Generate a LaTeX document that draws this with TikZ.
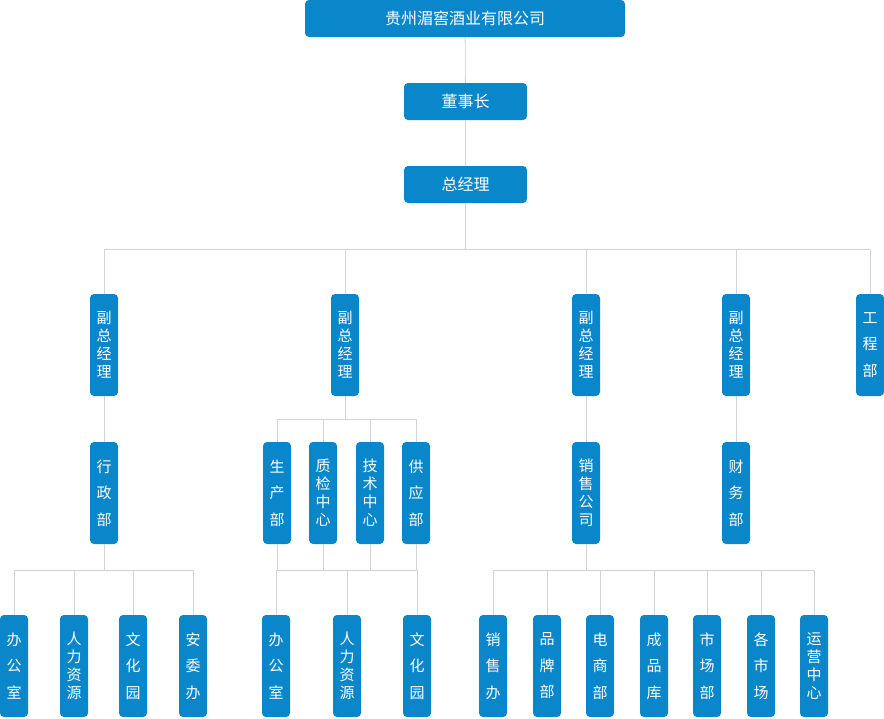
\documentclass[tikz,border=0pt]{standalone}
\usepackage{fontspec}
\setmainfont{Noto Sans CJK SC}
\definecolor{boxblue}{HTML}{0A86CA}
\definecolor{linegray}{HTML}{D4D4D4}
\begin{document}
\begin{tikzpicture}[x=1pt, y=-1pt,
  hbox/.style={fill=boxblue, rounded corners=4pt, text=white, inner sep=0pt, minimum height=37pt, font=\fontsize{16}{18}\selectfont},
  vbox/.style={fill=boxblue, rounded corners=4pt, text=white, inner sep=0pt, minimum width=28pt, minimum height=102pt, text width=16pt, align=center},
  four/.style={vbox, font=\fontsize{15}{18}\selectfont},
  three/.style={vbox, font=\fontsize{15}{26.5}\selectfont},
  link/.style={draw=linegray, line width=0.8pt}]
\useasboundingbox (0,0) rectangle (884,718);

% Top levels
\node[hbox, minimum width=320pt] (co) at (465,18.5) {贵州湄窖酒业有限公司};
\node[hbox, minimum width=123pt] (ch) at (465.5,101.5) {董事长};
\node[hbox, minimum width=123pt] (gm) at (465.5,184.5) {总经理};

% Deputies
\node[four] (d1) at (104,345) {副\\总\\经\\理};
\node[four] (d2) at (345,345) {副\\总\\经\\理};
\node[four] (d3) at (586,345) {副\\总\\经\\理};
\node[four] (d4) at (736,345) {副\\总\\经\\理};
\node[three] (eng) at (870,345) {工\\程\\部};

% Departments
\node[three] (adm) at (104,493) {行\\政\\部};
\node[three] (prod) at (277,493) {生\\产\\部};
\node[four] (qc) at (323,493) {质\\检\\中\\心};
\node[four] (tech) at (370,493) {技\\术\\中\\心};
\node[three] (sup) at (416,493) {供\\应\\部};
\node[four] (sales) at (586,493) {销\\售\\公\\司};
\node[three] (fin) at (736,493) {财\\务\\部};

% Offices
\node[three] (a1) at (14,666) {办\\公\\室};
\node[four] (a2) at (74,666) {人\\力\\资\\源};
\node[three] (a3) at (133,666) {文\\化\\园};
\node[three] (a4) at (193,666) {安\\委\\办};
\node[three] (p1) at (276,666) {办\\公\\室};
\node[four] (p2) at (347,666) {人\\力\\资\\源};
\node[three] (p3) at (417,666) {文\\化\\园};
\node[three] (s1) at (493,666) {销\\售\\办};
\node[three] (s2) at (547,666) {品\\牌\\部};
\node[three] (s3) at (600,666) {电\\商\\部};
\node[three] (s4) at (654,666) {成\\品\\库};
\node[three] (s5) at (707,666) {市\\场\\部};
\node[three] (s6) at (761,666) {各\\市\\场};
\node[four] (s7) at (814,666) {运\\营\\中\\心};

% Connectors
\draw[link] (co) -- (ch);
\draw[link] (ch) -- (gm);
\draw[link] (gm.south) -- (465.5,249);
\draw[link] (104,249) -- (870,249);
\foreach \n in {d1,d2,d3,d4,eng} \draw[link] (\n.north) |- (465,249);
\draw[link] (d1) -- (adm);
\draw[link] (d3) -- (sales);
\draw[link] (d4) -- (fin);
\draw[link] (d2.south) -- (345,419);
\foreach \n in {prod,qc,tech,sup} \draw[link] (\n.north) |- (345,419);
\foreach \n in {a1,a2,a3,a4} \draw[link] (\n.north) |- (adm.south |- 0,570) -- (adm.south);
\foreach \n in {prod,qc,tech,sup} \draw[link] (\n.south) -- (\n.south |- 0,570);
\draw[link] (p1.north) |- (p3.north |- 0,570) -- (p3.north);
\draw[link] (p2.north) -- (p2.north |- 0,570);
\foreach \n in {s1,s2,s3,s4,s5,s6,s7} \draw[link] (\n.north) |- (sales.south |- 0,570) -- (sales.south);
\end{tikzpicture}
\end{document}
